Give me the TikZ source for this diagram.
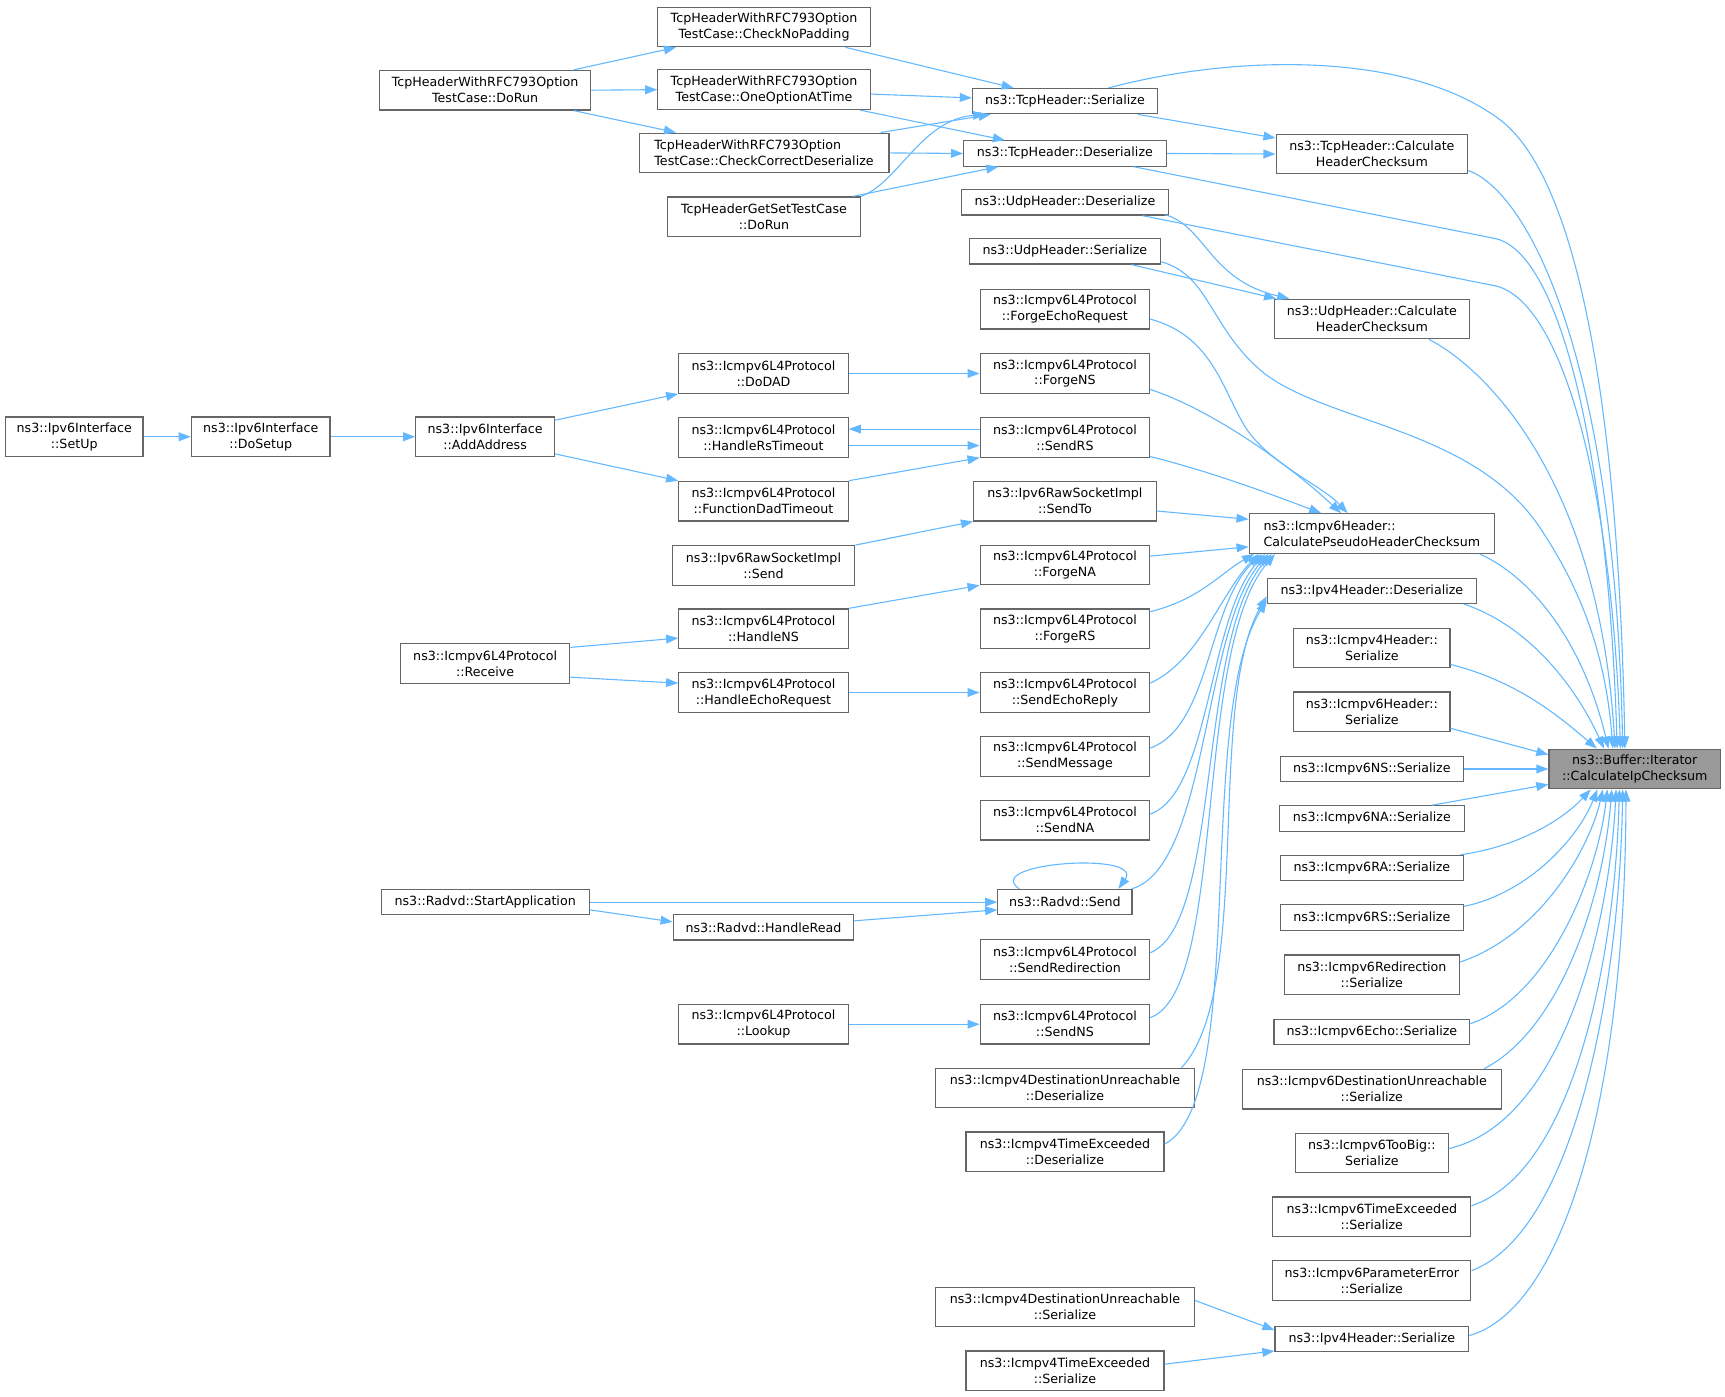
\documentclass[tikz,border=0pt]{standalone}
\usepackage{fontspec}
\newfontfamily\dv{DejaVu Sans}
\usetikzlibrary{arrows.meta,calc}
\definecolor{edgeblue}{HTML}{63B8FF}
\definecolor{boxgray}{HTML}{666666}
\definecolor{nodegray}{HTML}{999999}
\tikzset{
  box/.style={draw=boxgray, fill=white, line width=1.1pt, inner sep=0pt, align=center,
    font=\dv\fontsize{11.5}{14.5}\selectfont, minimum height=36pt},
  one/.style={minimum height=23pt},
  bw/.style={minimum width=#1},
  edge/.style={draw=edgeblue, line width=1pt, -{Triangle[length=11pt,width=8pt]}}
}
\begin{document}
\begin{tikzpicture}[x=1pt,y=-1pt]
\useasboundingbox (0,0) rectangle (1568,1269);
% column A-C
\node[box,bw=125pt] (setup) at (67.5,397) {ns3::Ipv6Interface\\::SetUp};
\node[box,bw=126pt] (dosetup) at (237,397) {ns3::Ipv6Interface\\::DoSetup};
\node[box,bw=126pt] (addaddr) at (441,397) {ns3::Ipv6Interface\\::AddAddress};
\node[box,bw=192pt] (rfcrun) at (441,82) {TcpHeaderWithRFC793Option\\TestCase::DoRun};
\node[box,bw=154pt] (receive) at (441,603) {ns3::Icmpv6L4Protocol\\::Receive};
\node[box,one,bw=189pt] (startapp) at (441,820) {ns3::Radvd::StartApplication};
% column D
\node[box,bw=193pt] (nopad) at (694.5,24.5) {TcpHeaderWithRFC793Option\\TestCase::CheckNoPadding};
\node[box,bw=193pt] (oneopt) at (694.5,81.5) {TcpHeaderWithRFC793Option\\TestCase::OneOptionAtTime};
\node[box,bw=227pt,align=left] (checkcorr) at (694.5,139) {TcpHeaderWithRFC793Option\\TestCase::CheckCorrectDeserialize};
\node[box,bw=175pt] (getset) at (694.5,197) {TcpHeaderGetSetTestCase\\::DoRun};
\node[box,bw=154pt] (dodad) at (694,339.5) {ns3::Icmpv6L4Protocol\\::DoDAD};
\node[box,bw=154pt] (rstimeout) at (694,397.5) {ns3::Icmpv6L4Protocol\\::HandleRsTimeout};
\node[box,bw=154pt] (fdt) at (694,455.5) {ns3::Icmpv6L4Protocol\\::FunctionDadTimeout};
\node[box,bw=166pt] (rawsend) at (694,514) {ns3::Ipv6RawSocketImpl\\::Send};
\node[box,bw=154pt] (handlens) at (694,571.5) {ns3::Icmpv6L4Protocol\\::HandleNS};
\node[box,bw=154pt] (handleecho) at (694,629.5) {ns3::Icmpv6L4Protocol\\::HandleEchoRequest};
\node[box,one,bw=164pt] (handleread) at (694,843) {ns3::Radvd::HandleRead};
\node[box,bw=154pt] (lookup) at (694,931) {ns3::Icmpv6L4Protocol\\::Lookup};
% column E
\node[box,one,bw=168pt] (tcpser) at (968,92) {ns3::TcpHeader::Serialize};
\node[box,one,bw=184pt] (tcpdeser) at (968,139.5) {ns3::TcpHeader::Deserialize};
\node[box,one,bw=188pt] (udpdeser) at (968,184) {ns3::UdpHeader::Deserialize};
\node[box,one,bw=174pt] (udpser) at (968,228.5) {ns3::UdpHeader::Serialize};
\node[box,bw=154pt] (fer) at (968,281) {ns3::Icmpv6L4Protocol\\::ForgeEchoRequest};
\node[box,bw=154pt] (forgens) at (968,339.5) {ns3::Icmpv6L4Protocol\\::ForgeNS};
\node[box,bw=154pt] (sendrs) at (968,397.5) {ns3::Icmpv6L4Protocol\\::SendRS};
\node[box,bw=166pt] (sendto) at (968,455.5) {ns3::Ipv6RawSocketImpl\\::SendTo};
\node[box,bw=154pt] (forgena) at (968,513.5) {ns3::Icmpv6L4Protocol\\::ForgeNA};
\node[box,bw=154pt] (forgers) at (968,571.5) {ns3::Icmpv6L4Protocol\\::ForgeRS};
\node[box,bw=154pt] (sendecho) at (968,629.5) {ns3::Icmpv6L4Protocol\\::SendEchoReply};
\node[box,bw=154pt] (sendmsg) at (968,687.5) {ns3::Icmpv6L4Protocol\\::SendMessage};
\node[box,bw=154pt] (sendna) at (968,745.5) {ns3::Icmpv6L4Protocol\\::SendNA};
\node[box,one,bw=122pt] (radsend) at (968,820) {ns3::Radvd::Send};
\node[box,bw=154pt] (sendredir) at (968,872) {ns3::Icmpv6L4Protocol\\::SendRedirection};
\node[box,bw=154pt] (sendns) at (968,931) {ns3::Icmpv6L4Protocol\\::SendNS};
\node[box,bw=235pt] (v4dudeser) at (968,989) {ns3::Icmpv4DestinationUnreachable\\::Deserialize};
\node[box,bw=180pt] (v4tedeser) at (968,1047) {ns3::Icmpv4TimeExceeded\\::Deserialize};
\node[box,bw=235pt] (v4duser) at (968,1188) {ns3::Icmpv4DestinationUnreachable\\::Serialize};
\node[box,bw=180pt] (v4teser) at (968,1246) {ns3::Icmpv4TimeExceeded\\::Serialize};
% column F
\node[box,bw=174pt] (tcpcalc) at (1247,140) {ns3::TcpHeader::Calculate\\HeaderChecksum};
\node[box,bw=177pt] (udpcalc) at (1247,290) {ns3::UdpHeader::Calculate\\HeaderChecksum};
\node[box,bw=223pt,align=left] (pseudo) at (1247,485) {ns3::Icmpv6Header::\\CalculatePseudoHeaderChecksum};
\node[box,one,bw=190pt] (v4deser) at (1247,537) {ns3::Ipv4Header::Deserialize};
\node[box,bw=142pt] (v4hser) at (1247,589) {ns3::Icmpv4Header::\\Serialize};
\node[box,bw=142pt] (v6hser) at (1247,647) {ns3::Icmpv6Header::\\Serialize};
\node[box,one,bw=166pt] (nsser) at (1247,699) {ns3::Icmpv6NS::Serialize};
\node[box,one,bw=168pt] (naser) at (1247,744) {ns3::Icmpv6NA::Serialize};
\node[box,one,bw=166pt] (raser) at (1247,789) {ns3::Icmpv6RA::Serialize};
\node[box,one,bw=166pt] (rsser) at (1247,834) {ns3::Icmpv6RS::Serialize};
\node[box,bw=159pt] (redirser) at (1247,886) {ns3::Icmpv6Redirection\\::Serialize};
\node[box,one,bw=178pt] (echoser) at (1247,938) {ns3::Icmpv6Echo::Serialize};
\node[box,bw=235pt] (v6duser) at (1247,990) {ns3::Icmpv6DestinationUnreachable\\::Serialize};
\node[box,bw=139pt] (toobig) at (1247,1048) {ns3::Icmpv6TooBig::\\Serialize};
\node[box,bw=180pt] (v6teser) at (1247,1106) {ns3::Icmpv6TimeExceeded\\::Serialize};
\node[box,bw=180pt] (paramser) at (1247,1164) {ns3::Icmpv6ParameterError\\::Serialize};
\node[box,one,bw=176pt] (v4ser) at (1247,1217) {ns3::Ipv4Header::Serialize};
% target
\node[box,bw=156pt,fill=nodegray] (ipcs) at (1486,699) {ns3::Buffer::Iterator\\::CalculateIpChecksum};

% ---- left edges
\draw[edge] (setup.east) -- (dosetup.west);
\draw[edge] (dosetup.east) -- (addaddr.west);
\draw[edge] ($(addaddr.north east)+(0,3.5)$) -- (dodad.south west);
\draw[edge] ($(addaddr.south east)+(0,-3)$) -- (fdt.north west);
\draw[edge] (dodad.east) -- (forgens.west);
\draw[edge] ($(sendrs.west)+(0,-7.5)$) -- ($(rstimeout.east)+(0,-7.5)$);
\draw[edge] ($(rstimeout.east)+(0,7.5)$) -- ($(sendrs.west)+(0,7.5)$);
\draw[edge] (fdt.north east) -- (sendrs.south west);
\draw[edge] (rawsend.north east) -- (sendto.south west);
\draw[edge] (handlens.north east) -- (forgena.south west);
\draw[edge] ($(receive.north east)+(0,4)$) -- ($(handlens.west)+(0,8.5)$);
\draw[edge] ($(receive.south east)+(0,-6)$) -- ($(handleecho.west)+(0,-8.5)$);
\draw[edge] (handleecho.east) -- (sendecho.west);
\draw[edge] (startapp.east) -- (radsend.west);
\draw[edge] ($(startapp.east)+(0,7)$) -- ($(handleread.west)+(0,-5)$);
\draw[edge] ($(handleread.east)+(0,-6)$) -- ($(radsend.west)+(0,7)$);
\draw[edge] (lookup.east) -- (sendns.west);
\draw[edge] ($(radsend.north west)+(20,0)$) .. controls +(-35,-24) and +(24,-34) .. ($(radsend.north east)+(-13,0)$);

% ---- top edges
\draw[edge] ($(rfcrun.north east)+(-16,0)$) -- ($(nopad.south west)+(17,0)$);
\draw[edge] (rfcrun.east) -- (oneopt.west);
\draw[edge] ($(rfcrun.south east)+(-16,0)$) -- ($(checkcorr.north west)+(34,0)$);
\draw[edge] ($(nopad.south east)+(-23,0)$) -- ($(tcpser.north west)+(38,0)$);
\draw[edge] ($(oneopt.east)+(0,4)$) -- ($(tcpser.west)+(0,-3)$);
\draw[edge] ($(oneopt.south east)+(-10,0)$) -- ($(tcpdeser.north west)+(38,0)$);
\draw[edge] ($(checkcorr.north east)+(-8,0)$) -- ($(tcpser.south west)+(17,0)$);
\draw[edge] (checkcorr.east) -- (tcpdeser.west);
\draw[edge] (getset.north east) .. controls +(33,-11) and +(-58,4.5) .. ($(tcpser.south west)+(12,0)$);
\draw[edge] ($(getset.north east)+(-7,0)$) -- ($(tcpdeser.south west)+(32,0)$);
\draw[edge] ($(tcpser.south east)+(-18,0)$) -- ($(tcpcalc.north west)+(0,4)$);
\draw[edge] (tcpdeser.east) -- (tcpcalc.west);
\draw[edge] ($(tcpser.north east)+(-45,0)$) .. controls (1120,50) and (1280,45) .. (1365,110) .. controls (1440,170) and (1472,400) .. ($(ipcs.north)+(-9,0)$);
\draw[edge] ($(tcpdeser.south east)+(-30,0)$) -- (1360,217) .. controls (1420,232) and (1462,420) .. ($(ipcs.north)+(-16,0)$);
\draw[edge] ($(udpdeser.south east)+(-24,0)$) -- (1360,260) .. controls (1420,275) and (1465,440) .. ($(ipcs.north)+(-13,0)$);
\draw[edge] ($(tcpcalc.east)+(0,15)$) .. controls +(56,20) and +(-7,-351) .. ($(ipcs.north)+(-11,0)$);
\draw[edge] ($(udpdeser.east)+(-4,11)$) .. controls +(37,10) and +(-73,-17) .. ($(udpcalc.north west)+(14,0)$);
\draw[edge] ($(udpser.south east)+(-27,0)$) -- ($(udpcalc.north west)+(2,0)$);
\draw[edge] ($(udpser.east)+(0,9.5)$) .. controls (1100,250) and (1100,300) .. (1150,340) .. controls (1210,385) and (1340,390) .. (1400,480) .. controls (1440,540) and (1460,600) .. ($(ipcs.north)+(-20,0)$);
\draw[edge] ($(udpcalc.south east)+(-37,0)$) .. controls +(61,32) and +(-13,-231) .. ($(ipcs.north)+(-18,0)$);

% ---- into pseudo header checksum
\draw[edge] ($(fer.east)+(0,9)$) .. controls (1100,305) and (1110,350) .. (1130,385) .. controls (1150,420) and (1200,440) .. ($(pseudo.north west)+(90,0)$);
\draw[edge] ($(forgens.east)+(0,14.5)$) .. controls +(55,18) and +(-48,-45) .. ($(pseudo.north west)+(84,0)$);
\draw[edge] ($(sendrs.east)+(0,17.5)$) .. controls +(60,15) and +(-40,-15) .. ($(pseudo.north west)+(66,0)$);
\draw[edge] ($(sendto.east)+(0,9)$) -- ($(pseudo.west)+(0,-13)$);
\draw[edge] ($(forgena.east)+(0,-8)$) -- ($(pseudo.west)+(0,12)$);
\draw[edge] ($(forgers.east)+(0,-15.5)$) .. controls +(45,-11) and +(-30,17) .. ($(pseudo.south west)+(5,0)$);
\draw[edge] ($(sendecho.east)+(0,-8.5)$) .. controls +(45,-21) and +(-35,37) .. ($(pseudo.south west)+(9,0)$);
\draw[edge] ($(sendmsg.east)+(0,-7.5)$) .. controls +(55,-20) and +(-50,47) .. ($(pseudo.south west)+(12,0)$);
\draw[edge] ($(sendna.east)+(0,-5.5)$) .. controls +(55,-20) and +(-52,57) .. ($(pseudo.south west)+(15,0)$);
\draw[edge] ($(radsend.north east)+(-1,0)$) .. controls +(70,-20) and +(-60,67) .. ($(pseudo.south west)+(18,0)$);
\draw[edge] ($(sendredir.east)+(0,-6)$) .. controls +(65,-26) and +(-68,77) .. ($(pseudo.south west)+(21,0)$);
\draw[edge] ($(sendns.east)+(0,-6)$) .. controls +(70,-25) and +(-75,87) .. ($(pseudo.south west)+(24,0)$);

% ---- into Ipv4Header
\draw[edge] ($(v4dudeser.north east)+(-12,0)$) .. controls +(66,-71) and +(-56,96) .. ($(v4deser.west)+(0,5)$);
\draw[edge] ($(v4tedeser.east)+(0,-7)$) .. controls +(77,-40) and +(-66,106) .. ($(v4deser.west)+(0,9)$);
\draw[edge] ($(v4duser.east)+(0,-6)$) -- ($(v4ser.west)+(0,-8)$);
\draw[edge] ($(v4teser.east)+(0,-6)$) -- ($(v4ser.west)+(0,11)$);

% ---- into CalculateIpChecksum
\draw[edge] ($(pseudo.south east)+(-14,0)$) .. controls +(55,25) and +(-20,-85) .. ($(ipcs.north)+(-24,0)$);
\draw[edge] ($(v4deser.south east)+(-12,0)$) .. controls +(60,20) and +(-25,-55) .. ($(ipcs.north)+(-28,0)$);
\draw[edge] ($(v4hser.east)+(0,15)$) .. controls +(60,15) and +(-35,-30) .. ($(ipcs.north west)+(44,0)$);
\draw[edge] ($(v6hser.east)+(0,15)$) -- ($(ipcs.west)+(0,-13)$);
\draw[edge] (nsser.east) -- (ipcs.west);
\draw[edge] ($(naser.north east)+(-30,0)$) -- ($(ipcs.west)+(0,14)$);
\draw[edge] ($(raser.north east)+(-3,0)$) .. controls +(53,-7.5) and +(-26,28) .. ($(ipcs.south)+(-40,0)$);
\draw[edge] ($(rsser.north east)+(0,2)$) .. controls +(60,-12.5) and +(-17,43) .. ($(ipcs.south)+(-34,0)$);
\draw[edge] ($(redirser.east)+(0,-11.5)$) .. controls +(73.5,-24.5) and +(-12,53) .. ($(ipcs.south)+(-29,0)$);
\draw[edge] ($(echoser.east)+(0,-7.5)$) .. controls +(74,-25.5) and +(-8,73) .. ($(ipcs.south)+(-25,0)$);
\draw[edge] ($(v6duser.north east)+(-16,0)$) .. controls +(71.5,-37) and +(-7,93) .. ($(ipcs.south)+(-21,0)$);
\draw[edge] ($(toobig.east)+(0,-4)$) .. controls +(103.5,-24) and +(-6,123) .. ($(ipcs.south)+(-17,0)$);
\draw[edge] ($(v6teser.east)+(0,-10)$) .. controls +(93,-31) and +(-4,153) .. ($(ipcs.south)+(-14,0)$);
\draw[edge] ($(paramser.east)+(0,-9)$) .. controls +(93,-35) and +(-3,183) .. ($(ipcs.south)+(-11,0)$);
\draw[edge] ($(v4ser.east)+(0,-3)$) .. controls +(85,-24) and +(-1,283) .. ($(ipcs.south)+(-8,0)$);
\end{tikzpicture}
\end{document}
